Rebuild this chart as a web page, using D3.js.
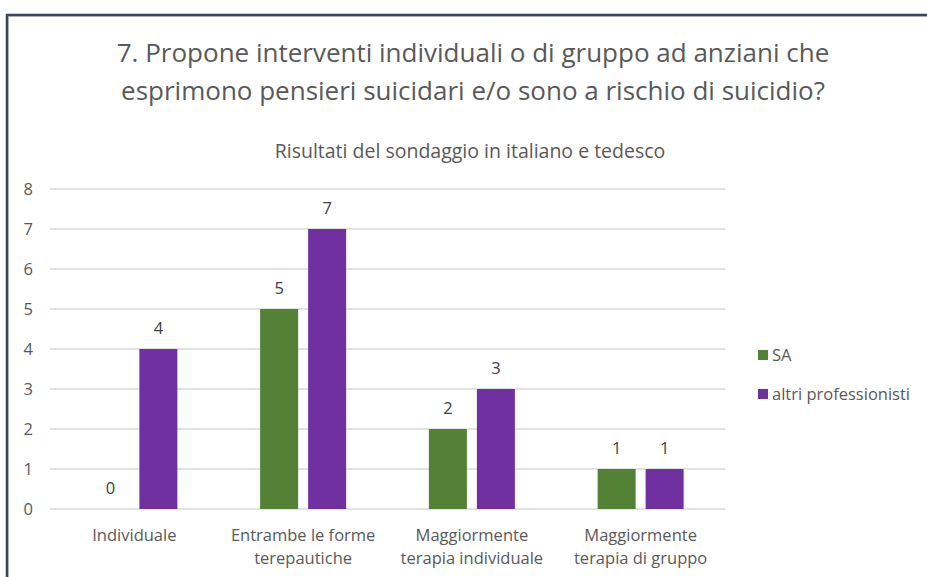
<!DOCTYPE html>
<html>
<head>
<meta charset="utf-8">
<script src="https://cdn.jsdelivr.net/npm/d3@7/dist/d3.min.js"></script>
<style>
  html, body { margin: 0; padding: 0; background: #fff; }
  svg { display: block; font-family: "Open Sans", sans-serif; }
</style>
</head>
<body>
<svg id="chart" width="927" height="577"></svg>
<script>
// Survey answers per category
const categories = [
  ["Individuale"],
  ["Entrambe le forme", "terepautiche"],
  ["Maggiormente", "terapia individuale"],
  ["Maggiormente", "terapia di gruppo"]
];
const seriesNames = ["SA", "altri professionisti"];
const saValues = [0, 5, 2, 1];
const altriValues = [4, 7, 3, 1];
const yTicks = [0, 1, 2, 3, 4, 5, 6, 7, 8];
const colors = ["#538135", "#7030a0"];

const titleLines = [
  "7. Propone interventi individuali o di gruppo ad anziani che",
  "esprimono pensieri suicidari e/o sono a rischio di suicidio?"
];
const subtitle = "Risultati del sondaggio in italiano e tedesco";

const svg = d3.select("#chart");
const font = "'Open Sans', sans-serif";

// Frame of the chart area
svg.append("rect").attr("x", 8.5).attr("y", 16.5).attr("width", 930).attr("height", 600)
  .attr("fill", "none").attr("stroke", "#d0d3d8").attr("stroke-width", 1);
svg.append("path").attr("d", "M7,577 V15 H927")
  .attr("fill", "none").attr("stroke", "#3b4557").attr("stroke-width", 2.5);

// Titles
svg.selectAll("text.title").data(titleLines).join("text")
  .attr("class", "title")
  .attr("x", 473).attr("y", (d, i) => 62 + i * 38)
  .attr("text-anchor", "middle")
  .attr("font-size", 26).attr("fill", "#595959")
  .text(d => d);

svg.append("text").attr("x", 470).attr("y", 158)
  .attr("text-anchor", "middle").attr("font-size", 19.5).attr("fill", "#595959")
  .text(subtitle);

const plot = { left: 50, right: 725, top: 189, bottom: 509 };

const x = d3.scaleBand().domain(d3.range(categories.length))
  .range([plot.left, plot.right]).paddingInner(0).paddingOuter(0);
const y = d3.scaleLinear().domain([0, 8]).range([plot.bottom, plot.top]);

// Gridlines
svg.append("g").selectAll("line").data(yTicks).join("line")
  .attr("x1", plot.left).attr("x2", plot.right)
  .attr("y1", d => y(d)).attr("y2", d => y(d))
  .attr("stroke", "#d9d9d9").attr("stroke-width", 1.5);

// Y axis labels
const yAxis = d3.axisLeft(y).tickValues(yTicks).tickSize(0).tickPadding(0);
const yg = svg.append("g").attr("transform", `translate(33,0)`).call(yAxis);
yg.select(".domain").remove();
yg.selectAll("text").attr("font-size", 16.5).attr("fill", "#595959")
  .attr("font-family", font).attr("text-anchor", "end").attr("dy", "0.35em");

// Bars
const inner = d3.scaleBand().domain([0, 1]).range([-43, 43]).paddingInner(10 / 48).paddingOuter(0);
const data = [];
categories.forEach((c, i) => {
  [saValues, altriValues].forEach((vals, s) => data.push({ cat: i, s, v: vals[i] }));
});

svg.append("g").selectAll("rect").data(data.filter(d => d.v > 0)).join("rect")
  .attr("x", d => x(d.cat) + x.bandwidth() / 2 + inner(d.s))
  .attr("width", inner.bandwidth())
  .attr("y", d => y(d.v))
  .attr("height", d => y(0) - y(d.v))
  .attr("fill", d => colors[d.s]);

// Value labels
svg.append("g").selectAll("text").data(data).join("text")
  .attr("x", d => x(d.cat) + x.bandwidth() / 2 + inner(d.s) + inner.bandwidth() / 2)
  .attr("y", d => y(d.v) - 15)
  .attr("text-anchor", "middle").attr("font-size", 16.5).attr("fill", "#404040")
  .text(d => d.v);

// Category labels
const cg = svg.append("g");
categories.forEach((lines, i) => {
  cg.append("text").attr("x", x(i) + x.bandwidth() / 2).attr("y", 541)
    .attr("text-anchor", "middle").attr("font-size", 16.5).attr("fill", "#595959")
    .selectAll("tspan").data(lines).join("tspan")
    .attr("x", x(i) + x.bandwidth() / 2).attr("dy", (d, j) => j === 0 ? 0 : 23)
    .text(d => d);
});

// Legend
const lg = svg.append("g");
seriesNames.forEach((n, i) => {
  const ly = 355 + i * 39;
  lg.append("rect").attr("x", 758).attr("y", ly - 5).attr("width", 10).attr("height", 10).attr("fill", colors[i]);
  lg.append("text").attr("x", 772).attr("y", ly).attr("dy", "0.35em")
    .attr("font-size", 16.5).attr("fill", "#595959").text(n);
});
</script>
</body>
</html>
